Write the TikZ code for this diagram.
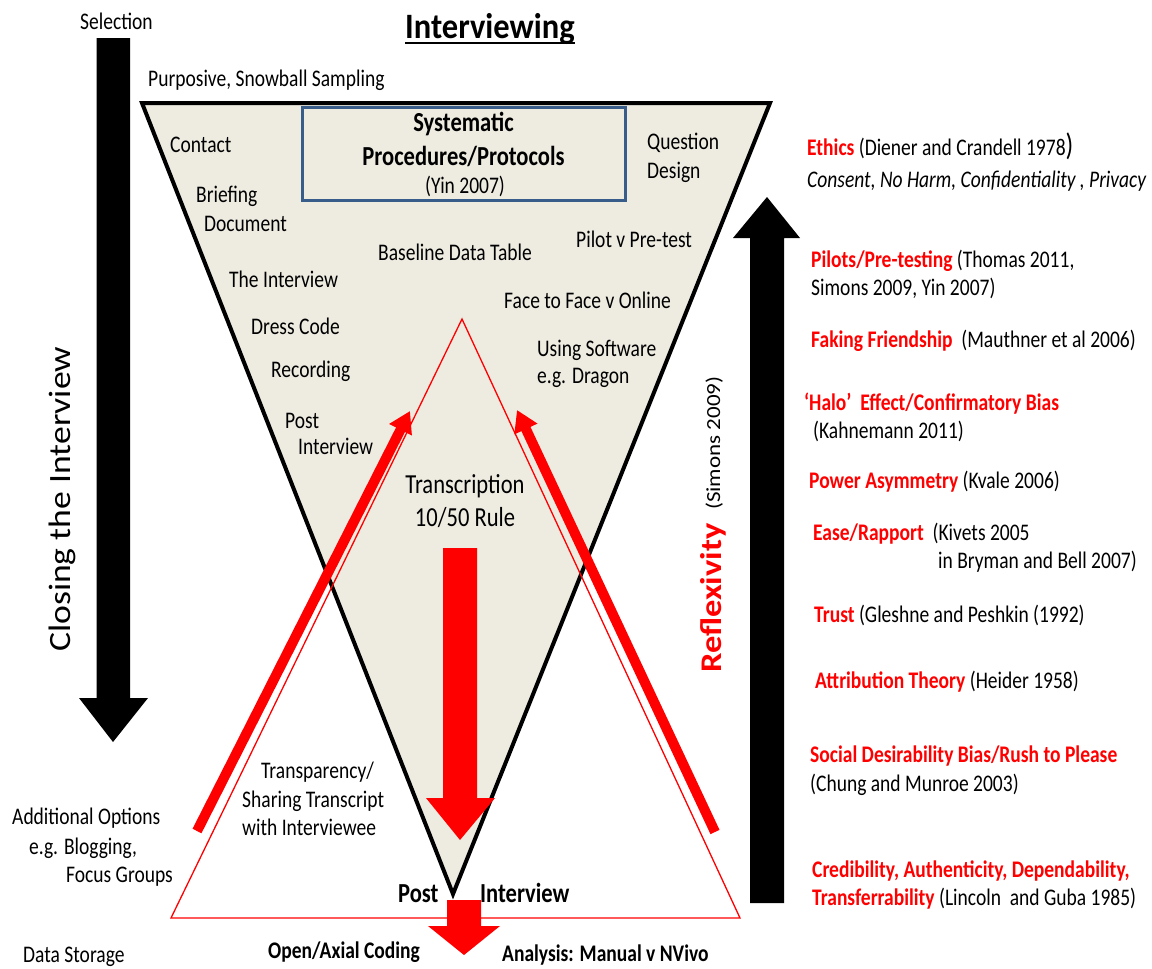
\documentclass[tikz,border=0pt]{standalone}
\usepackage{fontspec}
\setmainfont{Carlito}[FakeStretch=0.82]
\newfontfamily\rotf{Carlito}[FakeStretch=1.15]
\newfontfamily\titlef{Carlito}[FakeStretch=0.91]
\usetikzlibrary{arrows.meta}
\definecolor{tanfill}{HTML}{EEECE1}
\definecolor{boxblue}{HTML}{385D8A}
\definecolor{myred}{HTML}{FF0000}
\newcommand\rb[1]{{\bfseries\color{myred}#1}}
\tikzset{
  txt/.style={anchor=base west, inner sep=0pt, font=\fontsize{23.8}{28}\selectfont},
  ctxt/.style={txt, anchor=base},
  bigtxt/.style={font=\fontsize{27.5}{33}\selectfont},
  boldtxt/.style={font=\fontsize{23.8}{28}\selectfont\bfseries},
  bigbold/.style={font=\fontsize{27.5}{33}\selectfont\bfseries},
  blockarrow/.style={fill=black},
  redblock/.style={fill=myred},
  diagarrow/.style={draw=myred, line width=10pt, -{Triangle[length=21pt,width=24pt]}},
}
\begin{document}
\begin{tikzpicture}[x=1pt,y=-1pt]
\useasboundingbox (0,0) rectangle (1152,969);

% funnel
\draw[line width=4pt, fill=tanfill, line join=miter] (142,103) -- (770,103) -- (453,894) -- cycle;
% thin red triangle
\draw[myred, line width=1.3pt] (462,319) -- (740,918) -- (171,918) -- cycle;
% blue box
\draw[boxblue, line width=3pt] (302,107) rectangle (625,200);

% black block arrows
\fill[blockarrow] (96.5,38) -- (130,38) -- (130,698) -- (148,698) -- (113,742) -- (79,698) -- (96.5,698) -- cycle;
\fill[blockarrow] (750,903) -- (784,903) -- (784,238) -- (800,238) -- (767,197) -- (733,238) -- (750,238) -- cycle;

% title
\node[txt, font=\titlef\fontsize{35.7}{40}\selectfont\bfseries] (title) at (405,38) {Interviewing};
\draw[line width=2.5pt] ([yshift=-5pt]title.base west) -- ([yshift=-5pt]title.base east);

% left texts
\node[txt] (sel) at (80,30) {Selection};
\node[txt] (purp) at (148,86) {Purposive, Snowball Sampling};
\node[txt] (contact) at (170,152) {Contact};
\node[txt] (brief) at (196,202) {Briefing};
\node[txt] (doc) at (204,231) {Document};
\node[ctxt, bigbold] (sys) at (463.5,131) {Systematic};
\node[ctxt, bigbold] (proc) at (463.5,165) {Procedures/Protocols};
\node[ctxt] (yin) at (465,193) {(Yin 2007)};
\node[txt] (ques) at (647,149) {Question};
\node[txt] (design) at (647,178) {Design};
\node[txt] (baseline) at (378,260) {Baseline Data Table};
\node[txt] (pilot) at (576,247) {Pilot v Pre-test};
\node[txt] (theint) at (229,287) {The Interview};
\node[txt] (face) at (504,308) {Face to Face v Online};
\node[txt] (dress) at (251,334) {Dress Code};
\node[txt] (using) at (537,356) {Using Software};
\node[txt] (dragon) at (537,383) {e.g. Dragon};
\node[txt] (rec) at (271,377) {Recording};
\node[txt] (post1) at (285,428) {Post};
\node[txt] (int1) at (298,454) {Interview};
\node[ctxt, bigtxt] (trans) at (465,493) {Transcription};
\node[ctxt, bigtxt] (rule) at (465,526) {10/50 Rule};
\node[txt] (transp) at (261,778) {Transparency/};
\node[txt] (sharing) at (242,807) {Sharing Transcript};
\node[txt] (withint) at (242,835) {with Interviewee};
\node[txt] (addopt) at (12,824) {Additional Options};
\node[txt] (blog) at (29,854) {e.g. Blogging,};
\node[txt] (focus) at (66,882) {Focus Groups};
\node[txt] (storage) at (23,962) {Data Storage};
\node[txt, bigbold] (postb) at (398,902) {Post};
\node[txt, bigbold] (intb) at (480,902) {Interview};
\node[txt, boldtxt] (coding) at (268,958) {Open/Axial Coding};
\node[txt, boldtxt] (analysis) at (502,961) {Analysis: Manual v NVivo};

% rotated texts
\node[txt, rotate=90, font=\rotf\fontsize{31}{36}\selectfont] (closing) at (70,652) {Closing the Interview};
\node[txt, rotate=90, font=\rotf\fontsize{30}{36}\selectfont\bfseries, text=myred] (reflex) at (721,673) {Reflexivity};
\node[txt, rotate=90, font=\rotf\fontsize{20}{24}\selectfont] (simons) at (720,510) {(Simons 2009)};

% right column
\node[txt] (ethics) at (807,155) {\rb{Ethics} (Diener and Crandell 1978{\fontsize{31}{31}\selectfont)}};
\node[txt] (consent) at (807,187) {\itshape Consent, No Harm, Confidentiality , Privacy};
\node[txt] (pilots) at (811,267) {\rb{Pilots/Pre-testing} (Thomas 2011,};
\node[txt] (pilots2) at (811,295) {Simons 2009, Yin 2007)};
\node[txt] (faking) at (811,347) {\rb{Faking Friendship}\ \ (Mauthner et al 2006)};
\node[txt] (halo) at (804,410) {\rb{‘Halo’\ \ Effect/Confirmatory Bias}};
\node[txt] (kahn) at (813,438) {(Kahnemann 2011)};
\node[txt] (power) at (809,488) {\rb{Power Asymmetry} (Kvale 2006)};
\node[txt] (ease) at (813,540) {\rb{Ease/Rapport}\ \ (Kivets 2005};
\node[txt] (bryman) at (938,568) {in Bryman and Bell 2007)};
\node[txt] (trust) at (814,622) {\rb{Trust} (Gleshne and Peshkin (1992)};
\node[txt] (attr) at (815,688) {\rb{Attribution Theory} (Heider 1958)};
\node[txt] (social) at (810,762) {\rb{Social Desirability Bias/Rush to Please}};
\node[txt] (chung) at (810,791) {(Chung and Munroe 2003)};
\node[txt] (cred) at (812,877) {\rb{Credibility, Authenticity, Dependability,}};
\node[txt] (transf) at (812,905) {\rb{Transferrability} (Lincoln\ \ and Guba 1985)};

% red arrows
\fill[redblock] (443,548) -- (477,548) -- (477,798) -- (495,798) -- (460,840) -- (426,798) -- (443,798) -- cycle;
\fill[redblock] (447,900) -- (481,900) -- (481,926) -- (500,926) -- (464,955) -- (428,926) -- (447,926) -- cycle;
\coordinate (la0) at (197,831);
\coordinate (la1) at (410,411);
\coordinate (ra0) at (715,832);
\coordinate (ra1) at (517,410);
\draw[diagarrow] (la0) -- (la1);
\draw[diagarrow] (ra0) -- (ra1);
\end{tikzpicture}
\end{document}
